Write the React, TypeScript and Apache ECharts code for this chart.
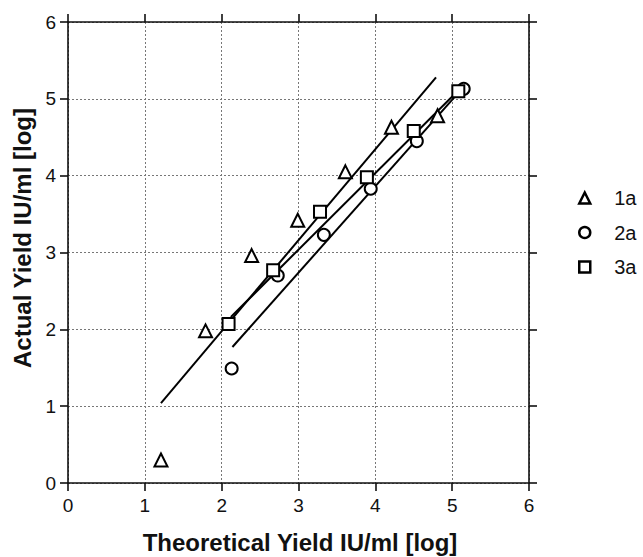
import React, { useEffect, useRef } from "react";
import * as echarts from "echarts";

const xTicks = [0, 1, 2, 3, 4, 5, 6];
const yTicks = [0, 1, 2, 3, 4, 5, 6];

const series1a: [number, number][] = [
  [1.21, 0.3], [1.79, 1.98], [2.39, 2.96], [2.99, 3.42], [3.61, 4.05], [4.21, 4.63], [4.81, 4.78],
];
const series2a: [number, number][] = [
  [2.13, 1.49], [2.73, 2.7], [3.33, 3.23], [3.94, 3.83], [4.54, 4.45], [5.15, 5.13],
];
const series3a: [number, number][] = [
  [2.09, 2.07], [2.67, 2.77], [3.28, 3.53], [3.89, 3.98], [4.5, 4.58], [5.08, 5.1],
];
const fit1a: [number, number][] = [[1.21, 1.04], [4.79, 5.28]];
const fit2a: [number, number][] = [[2.14, 1.77], [5.1, 5.1]];
const fit3a: [number, number][] = [[2.12, 2.16], [5.05, 5.08]];

const names = ["1a", "2a", "3a"];
const symbols = ["triangle", "circle", "rect"];
const xTitle = "Theoretical Yield IU/ml [log]";
const yTitle = "Actual Yield IU/ml [log]";

export default function App() {
  const ref = useRef<HTMLDivElement>(null);
  useEffect(() => {
    if (!ref.current) return;
    const chart = echarts.init(ref.current, null, { renderer: "svg" });
    const font = "'Liberation Sans', Arial, sans-serif";
    const axisLine = { show: true, onZero: false, lineStyle: { color: "#111", width: 1.6 } };
    const axisTick = { show: true, inside: false, length: 8, lineStyle: { color: "#111", width: 1.6 } };
    const splitLine = { show: true, lineStyle: { color: "#777", type: [2, 2] as any, width: 1 } };
    const markStyle = { color: "#fff", borderColor: "#000", borderWidth: 2, opacity: 1 };
    const dataSets = [series1a, series2a, series3a];
    const sizes = [13, 12, 12];
    const fits = [fit1a, fit2a, fit3a];
    chart.setOption({
      animation: false,
      backgroundColor: "#fff",
      textStyle: { fontFamily: font },
      grid: { left: 68, top: 22, width: 461, height: 461 },
      legend: {
        data: names,
        orient: "vertical",
        left: 578,
        top: 188,
        itemGap: 14.5,
        itemWidth: 11,
        itemHeight: 11,
        padding: 0,
        itemStyle: { borderWidth: 2.5 },
        textStyle: { fontSize: 20, lineHeight: 20, color: "#111", fontFamily: font, padding: [0, 0, 0, 19] },
      },
      graphic: [
        {
          type: "text", x: 300, y: 542,
          style: { text: xTitle, align: "center", verticalAlign: "middle", font: `bold 24px ${font}`, fill: "#111" },
        },
        {
          type: "text", x: 22, y: 238, rotation: Math.PI / 2,
          style: { text: yTitle, align: "center", verticalAlign: "middle", font: `bold 24px ${font}`, fill: "#111" },
        },
      ],
      xAxis: [
        {
          type: "value", min: 0, max: 6, interval: 1, position: "bottom",
          axisLine, axisTick, splitLine,
          axisLabel: { fontSize: 19, color: "#111", margin: 13, formatter: (v: number) => (xTicks.includes(v) ? String(v) : "") },
        },
        {
          type: "value", min: 0, max: 6, interval: 1, position: "top",
          axisLine, axisTick, splitLine: { show: false }, axisLabel: { show: false },
        },
      ],
      yAxis: [
        {
          type: "value", min: 0, max: 6, interval: 1, position: "left",
          axisLine, axisTick, splitLine,
          axisLabel: { fontSize: 19, color: "#111", margin: 12, formatter: (v: number) => (yTicks.includes(v) ? String(v) : "") },
        },
        {
          type: "value", min: 0, max: 6, interval: 1, position: "right",
          axisLine, axisTick, splitLine: { show: false }, axisLabel: { show: false },
        },
      ],
      series: [
        ...fits.map((d, i) => ({
          name: "fit" + names[i],
          type: "line",
          data: d,
          symbol: "none",
          lineStyle: { color: "#000", width: 2 },
          silent: true,
          z: 2,
        })),
        ...dataSets.map((d, i) => ({
          name: names[i],
          type: "scatter",
          data: d,
          symbol: symbols[i],
          symbolSize: sizes[i],
          itemStyle: markStyle,
          z: 3,
        })),
      ],
    });
    return () => chart.dispose();
  }, []);
  return (
    <div
      ref={ref}
      style={{ position: "fixed", left: 0, top: 0, width: 643, height: 557, background: "#fff" }}
    />
  );
}
